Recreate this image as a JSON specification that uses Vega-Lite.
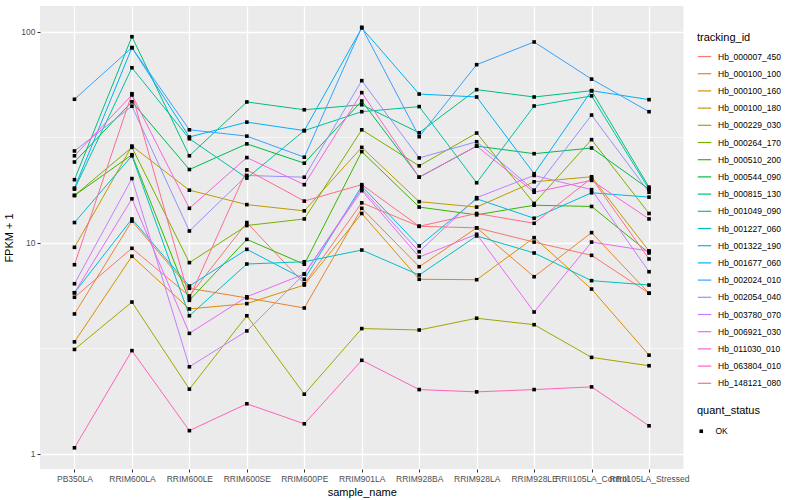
{
  "$schema": "https://vega.github.io/schema/vega-lite/v6.json",
  "width": 643.5,
  "height": 463,
  "autosize": {"type": "none"},
  "padding": {"left": 40, "top": 6, "right": 116.5, "bottom": 31},
  "background": "white",
  "config": {
    "font": "Liberation Sans",
    "view": {"fill": "#EBEBEB", "stroke": null},
    "axis": {"domain": false, "labelColor": "#4D4D4D", "labelFontSize": 8.5, "titleColor": "#000000", "titleFontSize": 11, "titleFontWeight": "normal", "tickColor": "#333333", "tickSize": 3, "labelPadding": 2, "gridColor": "#FFFFFF", "gridWidth": 1.3},
    "legend": {"titleFontSize": 11, "titleFontWeight": "normal", "titleColor": "#000000", "labelFontSize": 8.5, "labelColor": "#000000"}
  },
  "data": {"values": [
    {"tracking_id":"Hb_000007_450","sample_name":"PB350LA","fpkm":5.53,"quant_status":"OK"},
    {"tracking_id":"Hb_000007_450","sample_name":"RRIM600LA","fpkm":9.44,"quant_status":"OK"},
    {"tracking_id":"Hb_000007_450","sample_name":"RRIM600LE","fpkm":5.61,"quant_status":"OK"},
    {"tracking_id":"Hb_000007_450","sample_name":"RRIM600SE","fpkm":12.5,"quant_status":"OK"},
    {"tracking_id":"Hb_000007_450","sample_name":"RRIM600PE","fpkm":6.41,"quant_status":"OK"},
    {"tracking_id":"Hb_000007_450","sample_name":"RRIM901LA","fpkm":15.5,"quant_status":"OK"},
    {"tracking_id":"Hb_000007_450","sample_name":"RRIM928BA","fpkm":12.0,"quant_status":"OK"},
    {"tracking_id":"Hb_000007_450","sample_name":"RRIM928LA","fpkm":11.8,"quant_status":"OK"},
    {"tracking_id":"Hb_000007_450","sample_name":"RRIM928LE","fpkm":10.1,"quant_status":"OK"},
    {"tracking_id":"Hb_000007_450","sample_name":"RRII105LA_Control","fpkm":8.74,"quant_status":"OK"},
    {"tracking_id":"Hb_000007_450","sample_name":"RRII105LA_Stressed","fpkm":5.78,"quant_status":"OK"},
    {"tracking_id":"Hb_000100_100","sample_name":"PB350LA","fpkm":4.61,"quant_status":"OK"},
    {"tracking_id":"Hb_000100_100","sample_name":"RRIM600LA","fpkm":12.7,"quant_status":"OK"},
    {"tracking_id":"Hb_000100_100","sample_name":"RRIM600LE","fpkm":6.10,"quant_status":"OK"},
    {"tracking_id":"Hb_000100_100","sample_name":"RRIM600SE","fpkm":5.49,"quant_status":"OK"},
    {"tracking_id":"Hb_000100_100","sample_name":"RRIM600PE","fpkm":4.92,"quant_status":"OK"},
    {"tracking_id":"Hb_000100_100","sample_name":"RRIM901LA","fpkm":14.6,"quant_status":"OK"},
    {"tracking_id":"Hb_000100_100","sample_name":"RRIM928BA","fpkm":7.72,"quant_status":"OK"},
    {"tracking_id":"Hb_000100_100","sample_name":"RRIM928LA","fpkm":11.8,"quant_status":"OK"},
    {"tracking_id":"Hb_000100_100","sample_name":"RRIM928LE","fpkm":6.92,"quant_status":"OK"},
    {"tracking_id":"Hb_000100_100","sample_name":"RRII105LA_Control","fpkm":11.2,"quant_status":"OK"},
    {"tracking_id":"Hb_000100_100","sample_name":"RRII105LA_Stressed","fpkm":5.78,"quant_status":"OK"},
    {"tracking_id":"Hb_000100_160","sample_name":"PB350LA","fpkm":3.40,"quant_status":"OK"},
    {"tracking_id":"Hb_000100_160","sample_name":"RRIM600LA","fpkm":8.65,"quant_status":"OK"},
    {"tracking_id":"Hb_000100_160","sample_name":"RRIM600LE","fpkm":4.87,"quant_status":"OK"},
    {"tracking_id":"Hb_000100_160","sample_name":"RRIM600SE","fpkm":5.16,"quant_status":"OK"},
    {"tracking_id":"Hb_000100_160","sample_name":"RRIM600PE","fpkm":6.32,"quant_status":"OK"},
    {"tracking_id":"Hb_000100_160","sample_name":"RRIM901LA","fpkm":13.8,"quant_status":"OK"},
    {"tracking_id":"Hb_000100_160","sample_name":"RRIM928BA","fpkm":6.73,"quant_status":"OK"},
    {"tracking_id":"Hb_000100_160","sample_name":"RRIM928LA","fpkm":6.70,"quant_status":"OK"},
    {"tracking_id":"Hb_000100_160","sample_name":"RRIM928LE","fpkm":10.6,"quant_status":"OK"},
    {"tracking_id":"Hb_000100_160","sample_name":"RRII105LA_Control","fpkm":6.05,"quant_status":"OK"},
    {"tracking_id":"Hb_000100_160","sample_name":"RRII105LA_Stressed","fpkm":2.94,"quant_status":"OK"},
    {"tracking_id":"Hb_000100_180","sample_name":"PB350LA","fpkm":9.54,"quant_status":"OK"},
    {"tracking_id":"Hb_000100_180","sample_name":"RRIM600LA","fpkm":28.8,"quant_status":"OK"},
    {"tracking_id":"Hb_000100_180","sample_name":"RRIM600LE","fpkm":17.8,"quant_status":"OK"},
    {"tracking_id":"Hb_000100_180","sample_name":"RRIM600SE","fpkm":15.2,"quant_status":"OK"},
    {"tracking_id":"Hb_000100_180","sample_name":"RRIM600PE","fpkm":14.2,"quant_status":"OK"},
    {"tracking_id":"Hb_000100_180","sample_name":"RRIM901LA","fpkm":28.4,"quant_status":"OK"},
    {"tracking_id":"Hb_000100_180","sample_name":"RRIM928BA","fpkm":15.7,"quant_status":"OK"},
    {"tracking_id":"Hb_000100_180","sample_name":"RRIM928LA","fpkm":14.8,"quant_status":"OK"},
    {"tracking_id":"Hb_000100_180","sample_name":"RRIM928LE","fpkm":19.5,"quant_status":"OK"},
    {"tracking_id":"Hb_000100_180","sample_name":"RRII105LA_Control","fpkm":20.6,"quant_status":"OK"},
    {"tracking_id":"Hb_000100_180","sample_name":"RRII105LA_Stressed","fpkm":9.16,"quant_status":"OK"},
    {"tracking_id":"Hb_000229_030","sample_name":"PB350LA","fpkm":3.13,"quant_status":"OK"},
    {"tracking_id":"Hb_000229_030","sample_name":"RRIM600LA","fpkm":5.25,"quant_status":"OK"},
    {"tracking_id":"Hb_000229_030","sample_name":"RRIM600LE","fpkm":2.03,"quant_status":"OK"},
    {"tracking_id":"Hb_000229_030","sample_name":"RRIM600SE","fpkm":4.52,"quant_status":"OK"},
    {"tracking_id":"Hb_000229_030","sample_name":"RRIM600PE","fpkm":1.92,"quant_status":"OK"},
    {"tracking_id":"Hb_000229_030","sample_name":"RRIM901LA","fpkm":3.93,"quant_status":"OK"},
    {"tracking_id":"Hb_000229_030","sample_name":"RRIM928BA","fpkm":3.87,"quant_status":"OK"},
    {"tracking_id":"Hb_000229_030","sample_name":"RRIM928LA","fpkm":4.40,"quant_status":"OK"},
    {"tracking_id":"Hb_000229_030","sample_name":"RRIM928LE","fpkm":4.10,"quant_status":"OK"},
    {"tracking_id":"Hb_000229_030","sample_name":"RRII105LA_Control","fpkm":2.87,"quant_status":"OK"},
    {"tracking_id":"Hb_000229_030","sample_name":"RRII105LA_Stressed","fpkm":2.62,"quant_status":"OK"},
    {"tracking_id":"Hb_000264_170","sample_name":"PB350LA","fpkm":16.8,"quant_status":"OK"},
    {"tracking_id":"Hb_000264_170","sample_name":"RRIM600LA","fpkm":28.4,"quant_status":"OK"},
    {"tracking_id":"Hb_000264_170","sample_name":"RRIM600LE","fpkm":8.07,"quant_status":"OK"},
    {"tracking_id":"Hb_000264_170","sample_name":"RRIM600SE","fpkm":12.1,"quant_status":"OK"},
    {"tracking_id":"Hb_000264_170","sample_name":"RRIM600PE","fpkm":13.0,"quant_status":"OK"},
    {"tracking_id":"Hb_000264_170","sample_name":"RRIM901LA","fpkm":34.4,"quant_status":"OK"},
    {"tracking_id":"Hb_000264_170","sample_name":"RRIM928BA","fpkm":23.2,"quant_status":"OK"},
    {"tracking_id":"Hb_000264_170","sample_name":"RRIM928LA","fpkm":33.2,"quant_status":"OK"},
    {"tracking_id":"Hb_000264_170","sample_name":"RRIM928LE","fpkm":15.4,"quant_status":"OK"},
    {"tracking_id":"Hb_000264_170","sample_name":"RRII105LA_Control","fpkm":30.9,"quant_status":"OK"},
    {"tracking_id":"Hb_000264_170","sample_name":"RRII105LA_Stressed","fpkm":13.8,"quant_status":"OK"},
    {"tracking_id":"Hb_000510_200","sample_name":"PB350LA","fpkm":16.8,"quant_status":"OK"},
    {"tracking_id":"Hb_000510_200","sample_name":"RRIM600LA","fpkm":26.2,"quant_status":"OK"},
    {"tracking_id":"Hb_000510_200","sample_name":"RRIM600LE","fpkm":5.35,"quant_status":"OK"},
    {"tracking_id":"Hb_000510_200","sample_name":"RRIM600SE","fpkm":10.4,"quant_status":"OK"},
    {"tracking_id":"Hb_000510_200","sample_name":"RRIM600PE","fpkm":7.93,"quant_status":"OK"},
    {"tracking_id":"Hb_000510_200","sample_name":"RRIM901LA","fpkm":27.1,"quant_status":"OK"},
    {"tracking_id":"Hb_000510_200","sample_name":"RRIM928BA","fpkm":14.8,"quant_status":"OK"},
    {"tracking_id":"Hb_000510_200","sample_name":"RRIM928LA","fpkm":13.6,"quant_status":"OK"},
    {"tracking_id":"Hb_000510_200","sample_name":"RRIM928LE","fpkm":15.1,"quant_status":"OK"},
    {"tracking_id":"Hb_000510_200","sample_name":"RRII105LA_Control","fpkm":14.9,"quant_status":"OK"},
    {"tracking_id":"Hb_000510_200","sample_name":"RRII105LA_Stressed","fpkm":8.97,"quant_status":"OK"},
    {"tracking_id":"Hb_000544_090","sample_name":"PB350LA","fpkm":24.2,"quant_status":"OK"},
    {"tracking_id":"Hb_000544_090","sample_name":"RRIM600LA","fpkm":46.7,"quant_status":"OK"},
    {"tracking_id":"Hb_000544_090","sample_name":"RRIM600LE","fpkm":22.3,"quant_status":"OK"},
    {"tracking_id":"Hb_000544_090","sample_name":"RRIM600SE","fpkm":29.5,"quant_status":"OK"},
    {"tracking_id":"Hb_000544_090","sample_name":"RRIM600PE","fpkm":23.9,"quant_status":"OK"},
    {"tracking_id":"Hb_000544_090","sample_name":"RRIM901LA","fpkm":47.1,"quant_status":"OK"},
    {"tracking_id":"Hb_000544_090","sample_name":"RRIM928BA","fpkm":20.5,"quant_status":"OK"},
    {"tracking_id":"Hb_000544_090","sample_name":"RRIM928LA","fpkm":28.8,"quant_status":"OK"},
    {"tracking_id":"Hb_000544_090","sample_name":"RRIM928LE","fpkm":26.5,"quant_status":"OK"},
    {"tracking_id":"Hb_000544_090","sample_name":"RRII105LA_Control","fpkm":28.2,"quant_status":"OK"},
    {"tracking_id":"Hb_000544_090","sample_name":"RRII105LA_Stressed","fpkm":18.0,"quant_status":"OK"},
    {"tracking_id":"Hb_000815_130","sample_name":"PB350LA","fpkm":19.95,"quant_status":"OK"},
    {"tracking_id":"Hb_000815_130","sample_name":"RRIM600LA","fpkm":95.0,"quant_status":"OK"},
    {"tracking_id":"Hb_000815_130","sample_name":"RRIM600LE","fpkm":25.9,"quant_status":"OK"},
    {"tracking_id":"Hb_000815_130","sample_name":"RRIM600SE","fpkm":46.6,"quant_status":"OK"},
    {"tracking_id":"Hb_000815_130","sample_name":"RRIM600PE","fpkm":42.8,"quant_status":"OK"},
    {"tracking_id":"Hb_000815_130","sample_name":"RRIM901LA","fpkm":45.2,"quant_status":"OK"},
    {"tracking_id":"Hb_000815_130","sample_name":"RRIM928BA","fpkm":33.3,"quant_status":"OK"},
    {"tracking_id":"Hb_000815_130","sample_name":"RRIM928LA","fpkm":53.3,"quant_status":"OK"},
    {"tracking_id":"Hb_000815_130","sample_name":"RRIM928LE","fpkm":49.2,"quant_status":"OK"},
    {"tracking_id":"Hb_000815_130","sample_name":"RRII105LA_Control","fpkm":52.7,"quant_status":"OK"},
    {"tracking_id":"Hb_000815_130","sample_name":"RRII105LA_Stressed","fpkm":18.4,"quant_status":"OK"},
    {"tracking_id":"Hb_001049_090","sample_name":"PB350LA","fpkm":18.0,"quant_status":"OK"},
    {"tracking_id":"Hb_001049_090","sample_name":"RRIM600LA","fpkm":67.7,"quant_status":"OK"},
    {"tracking_id":"Hb_001049_090","sample_name":"RRIM600LE","fpkm":31.2,"quant_status":"OK"},
    {"tracking_id":"Hb_001049_090","sample_name":"RRIM600SE","fpkm":20.3,"quant_status":"OK"},
    {"tracking_id":"Hb_001049_090","sample_name":"RRIM600PE","fpkm":34.1,"quant_status":"OK"},
    {"tracking_id":"Hb_001049_090","sample_name":"RRIM901LA","fpkm":41.9,"quant_status":"OK"},
    {"tracking_id":"Hb_001049_090","sample_name":"RRIM928BA","fpkm":44.3,"quant_status":"OK"},
    {"tracking_id":"Hb_001049_090","sample_name":"RRIM928LA","fpkm":19.3,"quant_status":"OK"},
    {"tracking_id":"Hb_001049_090","sample_name":"RRIM928LE","fpkm":44.6,"quant_status":"OK"},
    {"tracking_id":"Hb_001049_090","sample_name":"RRII105LA_Control","fpkm":49.8,"quant_status":"OK"},
    {"tracking_id":"Hb_001049_090","sample_name":"RRII105LA_Stressed","fpkm":18.0,"quant_status":"OK"},
    {"tracking_id":"Hb_001227_060","sample_name":"PB350LA","fpkm":12.5,"quant_status":"OK"},
    {"tracking_id":"Hb_001227_060","sample_name":"RRIM600LA","fpkm":25.9,"quant_status":"OK"},
    {"tracking_id":"Hb_001227_060","sample_name":"RRIM600LE","fpkm":4.52,"quant_status":"OK"},
    {"tracking_id":"Hb_001227_060","sample_name":"RRIM600SE","fpkm":7.95,"quant_status":"OK"},
    {"tracking_id":"Hb_001227_060","sample_name":"RRIM600PE","fpkm":8.15,"quant_status":"OK"},
    {"tracking_id":"Hb_001227_060","sample_name":"RRIM901LA","fpkm":9.26,"quant_status":"OK"},
    {"tracking_id":"Hb_001227_060","sample_name":"RRIM928BA","fpkm":7.05,"quant_status":"OK"},
    {"tracking_id":"Hb_001227_060","sample_name":"RRIM928LA","fpkm":10.8,"quant_status":"OK"},
    {"tracking_id":"Hb_001227_060","sample_name":"RRIM928LE","fpkm":8.97,"quant_status":"OK"},
    {"tracking_id":"Hb_001227_060","sample_name":"RRII105LA_Control","fpkm":6.63,"quant_status":"OK"},
    {"tracking_id":"Hb_001227_060","sample_name":"RRII105LA_Stressed","fpkm":6.32,"quant_status":"OK"},
    {"tracking_id":"Hb_001322_190","sample_name":"PB350LA","fpkm":5.81,"quant_status":"OK"},
    {"tracking_id":"Hb_001322_190","sample_name":"RRIM600LA","fpkm":13.0,"quant_status":"OK"},
    {"tracking_id":"Hb_001322_190","sample_name":"RRIM600LE","fpkm":6.25,"quant_status":"OK"},
    {"tracking_id":"Hb_001322_190","sample_name":"RRIM600SE","fpkm":9.33,"quant_status":"OK"},
    {"tracking_id":"Hb_001322_190","sample_name":"RRIM600PE","fpkm":6.73,"quant_status":"OK"},
    {"tracking_id":"Hb_001322_190","sample_name":"RRIM901LA","fpkm":18.6,"quant_status":"OK"},
    {"tracking_id":"Hb_001322_190","sample_name":"RRIM928BA","fpkm":9.68,"quant_status":"OK"},
    {"tracking_id":"Hb_001322_190","sample_name":"RRIM928LA","fpkm":16.2,"quant_status":"OK"},
    {"tracking_id":"Hb_001322_190","sample_name":"RRIM928LE","fpkm":13.1,"quant_status":"OK"},
    {"tracking_id":"Hb_001322_190","sample_name":"RRII105LA_Control","fpkm":17.3,"quant_status":"OK"},
    {"tracking_id":"Hb_001322_190","sample_name":"RRII105LA_Stressed","fpkm":16.5,"quant_status":"OK"},
    {"tracking_id":"Hb_001677_060","sample_name":"PB350LA","fpkm":18.2,"quant_status":"OK"},
    {"tracking_id":"Hb_001677_060","sample_name":"RRIM600LA","fpkm":84.3,"quant_status":"OK"},
    {"tracking_id":"Hb_001677_060","sample_name":"RRIM600LE","fpkm":31.8,"quant_status":"OK"},
    {"tracking_id":"Hb_001677_060","sample_name":"RRIM600SE","fpkm":37.4,"quant_status":"OK"},
    {"tracking_id":"Hb_001677_060","sample_name":"RRIM600PE","fpkm":34.1,"quant_status":"OK"},
    {"tracking_id":"Hb_001677_060","sample_name":"RRIM901LA","fpkm":104.5,"quant_status":"OK"},
    {"tracking_id":"Hb_001677_060","sample_name":"RRIM928BA","fpkm":50.8,"quant_status":"OK"},
    {"tracking_id":"Hb_001677_060","sample_name":"RRIM928LA","fpkm":49.2,"quant_status":"OK"},
    {"tracking_id":"Hb_001677_060","sample_name":"RRIM928LE","fpkm":21.3,"quant_status":"OK"},
    {"tracking_id":"Hb_001677_060","sample_name":"RRII105LA_Control","fpkm":52.7,"quant_status":"OK"},
    {"tracking_id":"Hb_001677_060","sample_name":"RRII105LA_Stressed","fpkm":47.8,"quant_status":"OK"},
    {"tracking_id":"Hb_002024_010","sample_name":"PB350LA","fpkm":48.0,"quant_status":"OK"},
    {"tracking_id":"Hb_002024_010","sample_name":"RRIM600LA","fpkm":84.3,"quant_status":"OK"},
    {"tracking_id":"Hb_002024_010","sample_name":"RRIM600LE","fpkm":34.4,"quant_status":"OK"},
    {"tracking_id":"Hb_002024_010","sample_name":"RRIM600SE","fpkm":32.1,"quant_status":"OK"},
    {"tracking_id":"Hb_002024_010","sample_name":"RRIM600PE","fpkm":25.5,"quant_status":"OK"},
    {"tracking_id":"Hb_002024_010","sample_name":"RRIM901LA","fpkm":105.3,"quant_status":"OK"},
    {"tracking_id":"Hb_002024_010","sample_name":"RRIM928BA","fpkm":31.9,"quant_status":"OK"},
    {"tracking_id":"Hb_002024_010","sample_name":"RRIM928LA","fpkm":70.0,"quant_status":"OK"},
    {"tracking_id":"Hb_002024_010","sample_name":"RRIM928LE","fpkm":89.7,"quant_status":"OK"},
    {"tracking_id":"Hb_002024_010","sample_name":"RRII105LA_Control","fpkm":59.8,"quant_status":"OK"},
    {"tracking_id":"Hb_002024_010","sample_name":"RRII105LA_Stressed","fpkm":41.9,"quant_status":"OK"},
    {"tracking_id":"Hb_002054_040","sample_name":"PB350LA","fpkm":27.3,"quant_status":"OK"},
    {"tracking_id":"Hb_002054_040","sample_name":"RRIM600LA","fpkm":44.5,"quant_status":"OK"},
    {"tracking_id":"Hb_002054_040","sample_name":"RRIM600LE","fpkm":11.4,"quant_status":"OK"},
    {"tracking_id":"Hb_002054_040","sample_name":"RRIM600SE","fpkm":20.9,"quant_status":"OK"},
    {"tracking_id":"Hb_002054_040","sample_name":"RRIM600PE","fpkm":20.5,"quant_status":"OK"},
    {"tracking_id":"Hb_002054_040","sample_name":"RRIM901LA","fpkm":58.8,"quant_status":"OK"},
    {"tracking_id":"Hb_002054_040","sample_name":"RRIM928BA","fpkm":25.3,"quant_status":"OK"},
    {"tracking_id":"Hb_002054_040","sample_name":"RRIM928LA","fpkm":30.2,"quant_status":"OK"},
    {"tracking_id":"Hb_002054_040","sample_name":"RRIM928LE","fpkm":17.8,"quant_status":"OK"},
    {"tracking_id":"Hb_002054_040","sample_name":"RRII105LA_Control","fpkm":40.4,"quant_status":"OK"},
    {"tracking_id":"Hb_002054_040","sample_name":"RRII105LA_Stressed","fpkm":17.4,"quant_status":"OK"},
    {"tracking_id":"Hb_003780_070","sample_name":"PB350LA","fpkm":6.41,"quant_status":"OK"},
    {"tracking_id":"Hb_003780_070","sample_name":"RRIM600LA","fpkm":20.2,"quant_status":"OK"},
    {"tracking_id":"Hb_003780_070","sample_name":"RRIM600LE","fpkm":2.59,"quant_status":"OK"},
    {"tracking_id":"Hb_003780_070","sample_name":"RRIM600SE","fpkm":3.83,"quant_status":"OK"},
    {"tracking_id":"Hb_003780_070","sample_name":"RRIM600PE","fpkm":7.13,"quant_status":"OK"},
    {"tracking_id":"Hb_003780_070","sample_name":"RRIM901LA","fpkm":18.1,"quant_status":"OK"},
    {"tracking_id":"Hb_003780_070","sample_name":"RRIM928BA","fpkm":9.09,"quant_status":"OK"},
    {"tracking_id":"Hb_003780_070","sample_name":"RRIM928LA","fpkm":16.4,"quant_status":"OK"},
    {"tracking_id":"Hb_003780_070","sample_name":"RRIM928LE","fpkm":20.9,"quant_status":"OK"},
    {"tracking_id":"Hb_003780_070","sample_name":"RRII105LA_Control","fpkm":17.9,"quant_status":"OK"},
    {"tracking_id":"Hb_003780_070","sample_name":"RRII105LA_Stressed","fpkm":7.31,"quant_status":"OK"},
    {"tracking_id":"Hb_006921_030","sample_name":"PB350LA","fpkm":5.81,"quant_status":"OK"},
    {"tracking_id":"Hb_006921_030","sample_name":"RRIM600LA","fpkm":16.2,"quant_status":"OK"},
    {"tracking_id":"Hb_006921_030","sample_name":"RRIM600LE","fpkm":3.73,"quant_status":"OK"},
    {"tracking_id":"Hb_006921_030","sample_name":"RRIM600SE","fpkm":5.56,"quant_status":"OK"},
    {"tracking_id":"Hb_006921_030","sample_name":"RRIM600PE","fpkm":7.13,"quant_status":"OK"},
    {"tracking_id":"Hb_006921_030","sample_name":"RRIM901LA","fpkm":17.7,"quant_status":"OK"},
    {"tracking_id":"Hb_006921_030","sample_name":"RRIM928BA","fpkm":8.58,"quant_status":"OK"},
    {"tracking_id":"Hb_006921_030","sample_name":"RRIM928LA","fpkm":11.0,"quant_status":"OK"},
    {"tracking_id":"Hb_006921_030","sample_name":"RRIM928LE","fpkm":4.71,"quant_status":"OK"},
    {"tracking_id":"Hb_006921_030","sample_name":"RRII105LA_Control","fpkm":10.1,"quant_status":"OK"},
    {"tracking_id":"Hb_006921_030","sample_name":"RRII105LA_Stressed","fpkm":9.16,"quant_status":"OK"},
    {"tracking_id":"Hb_011030_010","sample_name":"PB350LA","fpkm":25.9,"quant_status":"OK"},
    {"tracking_id":"Hb_011030_010","sample_name":"RRIM600LA","fpkm":50.3,"quant_status":"OK"},
    {"tracking_id":"Hb_011030_010","sample_name":"RRIM600LE","fpkm":14.6,"quant_status":"OK"},
    {"tracking_id":"Hb_011030_010","sample_name":"RRIM600SE","fpkm":25.4,"quant_status":"OK"},
    {"tracking_id":"Hb_011030_010","sample_name":"RRIM600PE","fpkm":18.9,"quant_status":"OK"},
    {"tracking_id":"Hb_011030_010","sample_name":"RRIM901LA","fpkm":51.6,"quant_status":"OK"},
    {"tracking_id":"Hb_011030_010","sample_name":"RRIM928BA","fpkm":20.5,"quant_status":"OK"},
    {"tracking_id":"Hb_011030_010","sample_name":"RRIM928LA","fpkm":28.8,"quant_status":"OK"},
    {"tracking_id":"Hb_011030_010","sample_name":"RRIM928LE","fpkm":17.4,"quant_status":"OK"},
    {"tracking_id":"Hb_011030_010","sample_name":"RRII105LA_Control","fpkm":19.8,"quant_status":"OK"},
    {"tracking_id":"Hb_011030_010","sample_name":"RRII105LA_Stressed","fpkm":13.0,"quant_status":"OK"},
    {"tracking_id":"Hb_063804_010","sample_name":"PB350LA","fpkm":1.07,"quant_status":"OK"},
    {"tracking_id":"Hb_063804_010","sample_name":"RRIM600LA","fpkm":3.09,"quant_status":"OK"},
    {"tracking_id":"Hb_063804_010","sample_name":"RRIM600LE","fpkm":1.29,"quant_status":"OK"},
    {"tracking_id":"Hb_063804_010","sample_name":"RRIM600SE","fpkm":1.73,"quant_status":"OK"},
    {"tracking_id":"Hb_063804_010","sample_name":"RRIM600PE","fpkm":1.39,"quant_status":"OK"},
    {"tracking_id":"Hb_063804_010","sample_name":"RRIM901LA","fpkm":2.78,"quant_status":"OK"},
    {"tracking_id":"Hb_063804_010","sample_name":"RRIM928BA","fpkm":2.02,"quant_status":"OK"},
    {"tracking_id":"Hb_063804_010","sample_name":"RRIM928LA","fpkm":1.97,"quant_status":"OK"},
    {"tracking_id":"Hb_063804_010","sample_name":"RRIM928LE","fpkm":2.02,"quant_status":"OK"},
    {"tracking_id":"Hb_063804_010","sample_name":"RRII105LA_Control","fpkm":2.08,"quant_status":"OK"},
    {"tracking_id":"Hb_063804_010","sample_name":"RRII105LA_Stressed","fpkm":1.36,"quant_status":"OK"},
    {"tracking_id":"Hb_148121_080","sample_name":"PB350LA","fpkm":7.89,"quant_status":"OK"},
    {"tracking_id":"Hb_148121_080","sample_name":"RRIM600LA","fpkm":51.0,"quant_status":"OK"},
    {"tracking_id":"Hb_148121_080","sample_name":"RRIM600LE","fpkm":5.47,"quant_status":"OK"},
    {"tracking_id":"Hb_148121_080","sample_name":"RRIM600SE","fpkm":22.2,"quant_status":"OK"},
    {"tracking_id":"Hb_148121_080","sample_name":"RRIM600PE","fpkm":15.8,"quant_status":"OK"},
    {"tracking_id":"Hb_148121_080","sample_name":"RRIM901LA","fpkm":18.9,"quant_status":"OK"},
    {"tracking_id":"Hb_148121_080","sample_name":"RRIM928BA","fpkm":12.0,"quant_status":"OK"},
    {"tracking_id":"Hb_148121_080","sample_name":"RRIM928LA","fpkm":13.8,"quant_status":"OK"},
    {"tracking_id":"Hb_148121_080","sample_name":"RRIM928LE","fpkm":12.4,"quant_status":"OK"},
    {"tracking_id":"Hb_148121_080","sample_name":"RRII105LA_Control","fpkm":20.3,"quant_status":"OK"},
    {"tracking_id":"Hb_148121_080","sample_name":"RRII105LA_Stressed","fpkm":8.40,"quant_status":"OK"}
  ]},
  "encoding": {
    "x": {
      "field": "sample_name", "type": "nominal",
      "sort": ["PB350LA","RRIM600LA","RRIM600LE","RRIM600SE","RRIM600PE","RRIM901LA","RRIM928BA","RRIM928LA","RRIM928LE","RRII105LA_Control","RRII105LA_Stressed"],
      "scale": {"type": "point", "padding": 0.6},
      "axis": {"title": "sample_name", "labelAngle": 0, "labelOverlap": false, "labelBound": false, "grid": true, "titlePadding": 4}
    },
    "y": {
      "field": "fpkm", "type": "quantitative",
      "scale": {"type": "log", "domain": [0.849, 132.8], "nice": false},
      "axis": {
        "title": "FPKM + 1",
        "values": [1, 3.1623, 10, 31.623, 100],
        "labelExpr": "(datum.value == 1 || datum.value == 10 || datum.value == 100) ? datum.label : ''",
        "tickOpacity": {"condition": {"test": "datum.value == 3.1623 || datum.value == 31.623", "value": 0}, "value": 1},
        "gridWidth": {"condition": {"test": "datum.value == 3.1623 || datum.value == 31.623", "value": 0.6}, "value": 1.3},
        "titlePadding": 6
      }
    }
  },
  "layer": [
    {
      "mark": {"type": "line", "strokeWidth": 1},
      "encoding": {
        "color": {
          "field": "tracking_id", "type": "nominal",
          "scale": {
            "domain": ["Hb_000007_450","Hb_000100_100","Hb_000100_160","Hb_000100_180","Hb_000229_030","Hb_000264_170","Hb_000510_200","Hb_000544_090","Hb_000815_130","Hb_001049_090","Hb_001227_060","Hb_001322_190","Hb_001677_060","Hb_002024_010","Hb_002054_040","Hb_003780_070","Hb_006921_030","Hb_011030_010","Hb_063804_010","Hb_148121_080"],
            "range": ["#F8766D","#EA8331","#D89000","#C09B00","#A3A500","#7CAE00","#39B600","#00BB4E","#00BF7D","#00C1A3","#00BFC4","#00BAE0","#00B0F6","#35A2FF","#9590FF","#C77CFF","#E76BF3","#FA62DB","#FF62BC","#FF6C91"]
          },
          "legend": {"title": "tracking_id", "orient": "none", "legendX": 657, "legendY": 26, "symbolType": "stroke", "symbolSize": 180, "symbolStrokeWidth": 1.2, "rowPadding": 5.2, "labelOffset": 6, "titlePadding": 6}
        }
      }
    },
    {
      "mark": {"type": "point", "filled": true, "color": "#000000", "opacity": 1, "size": 13},
      "encoding": {
        "shape": {
          "field": "quant_status", "type": "nominal",
          "scale": {"range": ["square"]},
          "legend": {"title": "quant_status", "orient": "none", "legendX": 657, "legendY": 399, "symbolSize": 13, "symbolFillColor": "#000000", "symbolStrokeColor": "#000000", "labelOffset": 10, "titlePadding": 11}
        }
      }
    }
  ]
}
